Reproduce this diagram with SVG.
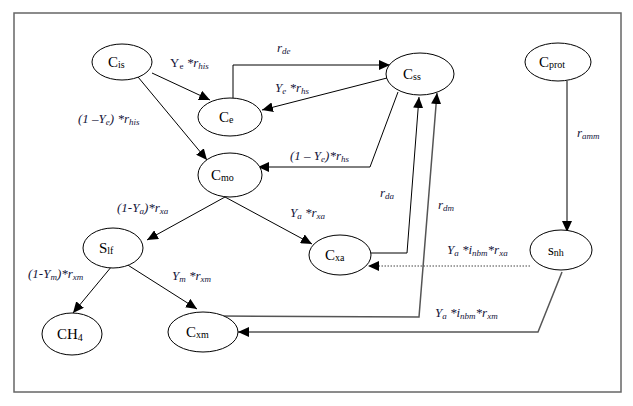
<svg xmlns="http://www.w3.org/2000/svg" width="633" height="406" viewBox="0 0 633 406">
<defs>
<marker id="ah" markerUnits="userSpaceOnUse" markerWidth="12" markerHeight="10" refX="11" refY="5" orient="auto">
<path d="M0,0 L11,5 L0,10 Z" fill="#000"/>
</marker>
<style>
.node ellipse{fill:#fff;stroke:#000;stroke-width:1}
.nt{font-family:"Liberation Serif",serif;font-size:15px;fill:#000}
.sub{font-size:10px}
.e{fill:none;stroke:#000;stroke-width:1}
.g{fill:none;stroke:#555;stroke-width:1.5}
.lb{font-family:"Liberation Serif",serif;font-size:13px;font-style:italic;fill:#15153a}
.ls{font-size:9px}
</style>
</defs>
<rect width="633" height="406" fill="#fff"/>
<rect x="14" y="13" width="607" height="379" fill="none" stroke="#666" stroke-width="1.5"/>

<g id="connectors">
<line class="e" x1="152" y1="73" x2="210" y2="100" marker-end="url(#ah)"/>
<line class="e" x1="138" y1="77" x2="207" y2="160" marker-end="url(#ah)"/>
<polyline class="e" points="233,98 233,65 390,65" marker-end="url(#ah)"/>
<line class="e" x1="387" y1="78" x2="262" y2="110" marker-end="url(#ah)"/>
<polyline class="e" points="398,92 370,167 258,167" marker-end="url(#ah)"/>
<line class="e" x1="225" y1="197" x2="147" y2="240" marker-end="url(#ah)"/>
<line class="e" x1="225" y1="197" x2="312" y2="244" marker-end="url(#ah)"/>
<line class="e" x1="112" y1="266" x2="73" y2="313" marker-end="url(#ah)"/>
<line class="e" x1="123" y1="262" x2="197" y2="309" marker-end="url(#ah)"/>
<polyline class="e" points="371,253 407,253 419,97" marker-end="url(#ah)"/>
<polyline class="g" points="220,316 419,317 437,93" marker-end="url(#ah)"/>
<line x1="530" y1="266" x2="368" y2="266" stroke="#444" stroke-width="1" stroke-dasharray="1.5,1.5" marker-end="url(#ah)"/>
<polyline class="g" points="562,272 538,332 238,332" marker-end="url(#ah)"/>
<line class="e" x1="567" y1="81" x2="567" y2="232" marker-end="url(#ah)"/>
</g>

<g id="labels">
<text class="lb" x="170" y="67"><tspan font-style="normal">Y</tspan><tspan class="ls" font-style="normal" dy="2">e</tspan><tspan dy="-2"> *r</tspan><tspan class="ls" dy="2">his</tspan></text>
<text class="lb" x="277" y="52">r<tspan class="ls" dy="2">de</tspan></text>
<text class="lb" x="275" y="92">Y<tspan class="ls" dy="2">e</tspan><tspan dy="-2"> *r</tspan><tspan class="ls" dy="2">hs</tspan></text>
<text class="lb" x="78" y="123">(1 –Y<tspan class="ls" dy="2">e</tspan><tspan dy="-2">) *r</tspan><tspan class="ls" dy="2">his</tspan></text>
<text class="lb" x="290" y="160">(1 – Y<tspan class="ls" dy="2">e</tspan><tspan dy="-2">)*r</tspan><tspan class="ls" dy="2">hs</tspan></text>
<text class="lb" x="117" y="212">(1-Y<tspan class="ls" dy="2">a</tspan><tspan dy="-2">)*r</tspan><tspan class="ls" dy="2">xa</tspan></text>
<text class="lb" x="290" y="217">Y<tspan class="ls" dy="2">a</tspan><tspan dy="-2"> *r</tspan><tspan class="ls" dy="2">xa</tspan></text>
<text class="lb" x="28" y="278">(1-Y<tspan class="ls" dy="2">m</tspan><tspan dy="-2">)*r</tspan><tspan class="ls" dy="2">xm</tspan></text>
<text class="lb" x="172" y="280">Y<tspan class="ls" dy="2">m</tspan><tspan dy="-2"> *r</tspan><tspan class="ls" dy="2">xm</tspan></text>
<text class="lb" x="380" y="197">r<tspan class="ls" dy="2">da</tspan></text>
<text class="lb" x="438" y="209">r<tspan class="ls" dy="2">dm</tspan></text>
<text class="lb" x="447" y="254">Y<tspan class="ls" dy="2">a</tspan><tspan dy="-2"> *i</tspan><tspan class="ls" dy="2">nbm</tspan><tspan dy="-2">*r</tspan><tspan class="ls" dy="2">xa</tspan></text>
<text class="lb" x="435" y="317">Y<tspan class="ls" dy="2">a</tspan><tspan dy="-2"> *i</tspan><tspan class="ls" dy="2">nbm</tspan><tspan dy="-2">*r</tspan><tspan class="ls" dy="2">xm</tspan></text>
<text class="lb" x="577" y="137">r<tspan class="ls" dy="2">amm</tspan></text>
</g>

<g id="node-cis" class="node"><ellipse cx="122" cy="62" rx="30" ry="18"/><text class="nt" x="108" y="67">C<tspan class="sub" dy="1">is</tspan></text></g>
<g id="node-ce" class="node"><ellipse cx="230" cy="117" rx="32" ry="19"/><text class="nt" x="219" y="122">C<tspan class="sub" dy="1">e</tspan></text></g>
<g id="node-css" class="node"><ellipse cx="420" cy="74" rx="34" ry="21"/><text class="nt" x="403" y="79">C<tspan class="sub" dy="1">ss</tspan></text></g>
<g id="node-cmo" class="node"><ellipse cx="230" cy="175" rx="32" ry="22"/><text class="nt" x="211" y="180">C<tspan class="sub" dy="1">mo</tspan></text></g>
<g id="node-slf" class="node"><ellipse cx="113" cy="248" rx="30" ry="20"/><text class="nt" x="99" y="253">S<tspan class="sub" dy="1">lf</tspan></text></g>
<g id="node-cxa" class="node"><ellipse cx="340" cy="255" rx="31" ry="20"/><text class="nt" x="325" y="260">C<tspan class="sub" dy="1">xa</tspan></text></g>
<g id="node-ch4" class="node"><ellipse cx="72" cy="334" rx="30" ry="21"/><text class="nt" x="57" y="339">CH<tspan class="sub" dy="2">4</tspan></text></g>
<g id="node-cxm" class="node"><ellipse cx="203" cy="332" rx="35" ry="20"/><text class="nt" x="186" y="337">C<tspan class="sub" dy="1">xm</tspan></text></g>
<g id="node-cprot" class="node"><ellipse cx="558" cy="62" rx="33" ry="19"/><text class="nt" x="539" y="67">C<tspan class="sub" dy="1">prot</tspan></text></g>
<g id="node-snh" class="node"><ellipse cx="561" cy="250" rx="31" ry="20"/><text class="nt" x="548" y="255" font-size="13">s<tspan class="sub" dy="1">nh</tspan></text></g>
</svg>
